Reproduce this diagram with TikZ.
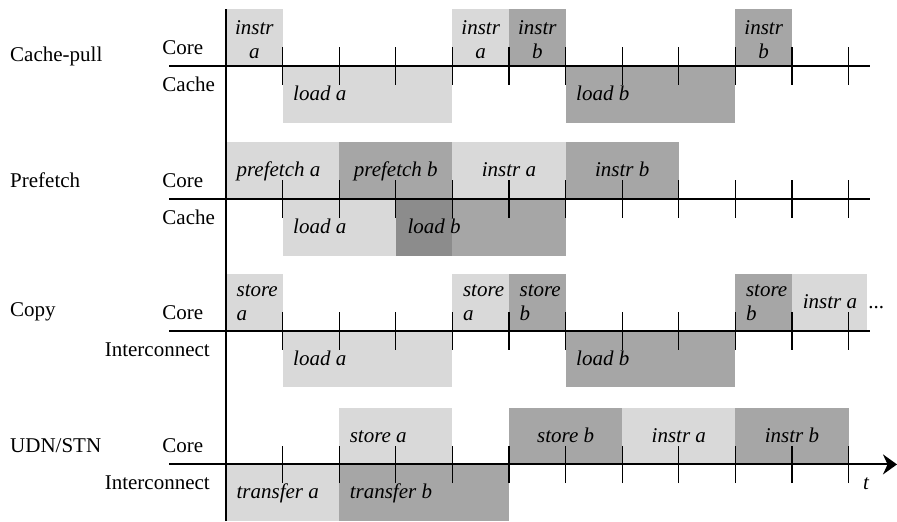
\documentclass[tikz,border=0pt]{standalone}
\usepackage{fontspec}
\setmainfont{Liberation Serif}
\usetikzlibrary{arrows.meta}
\definecolor{lite}{gray}{0.85}
\definecolor{mid}{gray}{0.65}
\definecolor{deep}{gray}{0.55}
\begin{document}
\begin{tikzpicture}[x=28.3pt,y=28.3pt,line join=round,>={Stealth[length=7pt,width=10pt]},
  font=\fontsize{10.5}{12}\selectfont,
  axisline/.style={line width=1pt},
  tick/.style={line width=0.6pt},
  lbl/.style={font=\fontsize{10.5}{12}\selectfont\itshape,inner sep=0pt,text height=1.6ex,text depth=0.3ex},
  lbltwo/.style={font=\fontsize{10.5}{12}\selectfont\itshape,inner sep=0pt},
  rowname/.style={inner sep=0pt,anchor=west}]
\useasboundingbox (-3.993,0) rectangle (11.855,9.205);
\begin{scope}[shift={(0,8.04)}]
\foreach \a/\b/\c/\s in {0/1/lite/1,4/5/lite/1,5/6/mid/1,9/10/mid/1,1/4/lite/-1,6/9/mid/-1}
  \fill[\c] (\a,0) rectangle (\b,\s);
\draw[axisline] (-1.007,0) -- (11.38,0);
\foreach \k in {1,...,11} \draw[tick] (\k,-0.33) -- (\k,0.33);
\node[rowname] (pull) at (-3.82,0.16) {Cache-pull};
\node[rowname] (pullcore) at (-1.13,0.33) {Core};
\node[rowname] (pullcache) at (-1.13,-0.33) {Cache};
\foreach \x/\t [count=\i] in {0.5/a,4.5/a,5.5/b,9.5/b}
  \node[lbltwo,align=center] (pullinstr\i) at (\x,0.46) {instr\\\t};
\foreach \x/\t [count=\i] in {1/a,6/b}
  \node[lbl,anchor=west] (pullload\i) at (\x+0.18,-0.5) {load \t};
\end{scope}
\begin{scope}[shift={(0,5.69)}]
\foreach \a/\b/\c/\s in {0/2/lite/1,2/4/mid/1,4/6/lite/1,6/8/mid/1,1/3/lite/-1,3/4/deep/-1,4/6/mid/-1}
  \fill[\c] (\a,0) rectangle (\b,\s);
\draw[axisline] (-1.007,0) -- (11.38,0);
\foreach \k in {1,...,11} \draw[tick] (\k,-0.33) -- (\k,0.33);
\node[rowname] (pre) at (-3.82,0.33) {Prefetch};
\node[rowname] (precore) at (-1.13,0.33) {Core};
\node[rowname] (precache) at (-1.13,-0.33) {Cache};
\foreach \x/\p/\t [count=\i] in {0.18/west/prefetch a,3/center/prefetch b,5/center/instr a,7/center/instr b}
  \node[lbl,anchor=\p] (pretask\i) at (\x,0.5) {\t};
\foreach \x/\t [count=\i] in {1.18/load a,3.2/load b}
  \node[lbl,anchor=west] (preload\i) at (\x,-0.5) {\t};
\end{scope}
\begin{scope}[shift={(0,3.36)}]
\foreach \a/\b/\c/\s in {0/1/lite/1,4/5/lite/1,5/6/mid/1,9/10/mid/1,10/11.33/lite/1,1/4/lite/-1,6/9/mid/-1}
  \fill[\c] (\a,0) rectangle (\b,\s);
\draw[axisline] (-1.007,0) -- (11.38,0);
\foreach \k in {1,...,11} \draw[tick] (\k,-0.33) -- (\k,0.33);
\node[rowname] (copy) at (-3.82,0.33) {Copy};
\node[rowname] (copycore) at (-1.13,0.33) {Core};
\node[rowname,anchor=east] (copynet) at (-0.28,-0.33) {Interconnect};
\foreach \x/\t [count=\i] in {0/a,4/a,5/b,9/b}
  \node[lbltwo,align=left,anchor=west] (copystore\i) at (\x+0.18,0.49) {store\\\t};
\node[lbl] (copyinstr) at (10.67,0.5) {instr a};
\node[lbl,font=\fontsize{10.5}{12}\selectfont] (copydots) at (11.49,0.5) {...};
\foreach \x/\t [count=\i] in {1/a,6/b}
  \node[lbl,anchor=west] (copyload\i) at (\x+0.18,-0.5) {load \t};
\end{scope}
\begin{scope}[shift={(0,1)}]
\foreach \a/\b/\c/\s in {2/4/lite/1,5/7/mid/1,7/9/lite/1,9/11/mid/1,0/2/lite/-1,2/5/mid/-1}
  \fill[\c] (\a,0) rectangle (\b,\s);
\draw[axisline,->] (-1.007,0) -- (11.855,0);
\foreach \k in {1,...,11} \draw[tick] (\k,-0.33) -- (\k,0.33);
\node[rowname] (udn) at (-3.82,0.33) {UDN/STN};
\node[rowname] (udncore) at (-1.13,0.33) {Core};
\node[rowname,anchor=east] (udnnet) at (-0.28,-0.33) {Interconnect};
\foreach \x/\p/\t [count=\i] in {2.18/west/store a,6/center/store b,8/center/instr a,10/center/instr b}
  \node[lbl,anchor=\p] (udntask\i) at (\x,0.5) {\t};
\foreach \x/\t [count=\i] in {0.18/transfer a,2.18/transfer b}
  \node[lbl,anchor=west] (udnxfer\i) at (\x,-0.5) {\t};
\node[lbl] (time) at (11.31,-0.34) {t};
\end{scope}
\draw[axisline] (0,0) -- (0,9.05);
\end{tikzpicture}
\end{document}
